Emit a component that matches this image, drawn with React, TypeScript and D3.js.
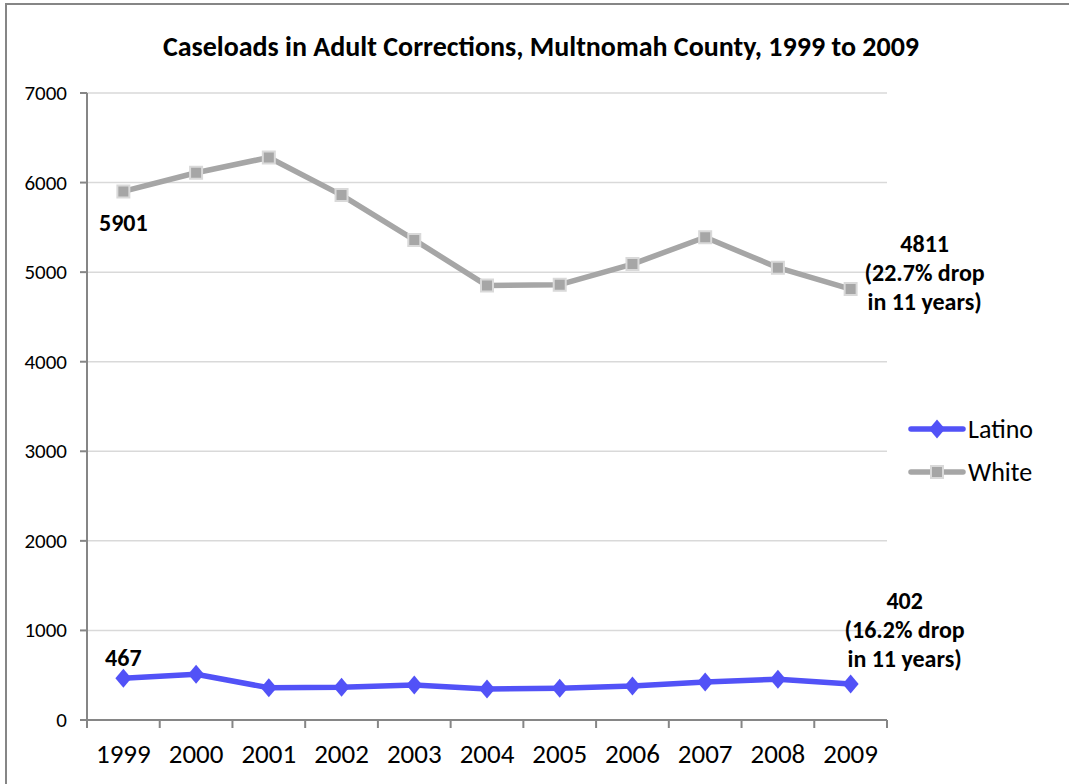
import React, { useRef, useEffect } from 'react';
import { select, scaleBand, scaleLinear, line, symbol, symbolSquare } from 'd3';

const years = ['1999', '2000', '2001', '2002', '2003', '2004', '2005', '2006', '2007', '2008', '2009'];
const latino = [467, 510, 360, 365, 390, 345, 355, 380, 425, 455, 402];
const white = [5901, 6110, 6280, 5860, 5360, 4850, 4860, 5090, 5390, 5050, 4811];
const yTicks = [0, 1000, 2000, 3000, 4000, 5000, 6000, 7000];
const whiteNote = ['4811', '(22.7% drop', 'in 11 years)'];
const latinoNote = ['402', '(16.2% drop', 'in 11 years)'];

const font = "Carlito, Calibri, Lato, sans-serif";

// diamond a bit wider than d3's default
const diamond = {
    draw(ctx: any, _size: number) {
        ctx.moveTo(0, -9.5);
        ctx.lineTo(8, 0);
        ctx.lineTo(0, 9.5);
        ctx.lineTo(-8, 0);
        ctx.closePath();
    }
};

export default function App() {
    const chartRef = useRef<SVGSVGElement | null>(null);

    useEffect(() => {
        if (!chartRef.current) return;
        const svg = select(chartRef.current);
        svg.selectAll("*").remove();

        const width = 1069;
        const height = 784;
        const margin = { top: 93, right: 182, bottom: 64, left: 87 };
        const innerW = width - margin.left - margin.right;
        const innerH = height - margin.top - margin.bottom;

        // outer chart border
        svg.append("rect")
            .attr("x", 6).attr("y", 4)
            .attr("width", 1100).attr("height", 900)
            .attr("fill", "white")
            .attr("stroke", "#868686")
            .attr("stroke-width", 2);

        svg.append("text")
            .attr("x", 541).attr("y", 56)
            .attr("text-anchor", "middle")
            .style("font-family", font)
            .style("font-size", "28px")
            .style("font-weight", "bold")
            .text("Caseloads in Adult Corrections, Multnomah County, 1999 to 2009");

        const g = svg.append("g").attr("transform", `translate(${margin.left},${margin.top})`);

        const x = scaleBand<string>().domain(years).range([0, innerW]);
        const y = scaleLinear().domain([0, 7000]).range([innerH, 0]);
        const cx = (d: string) => (x(d) as number) + x.bandwidth() / 2;

        // gridlines
        g.selectAll(".grid").data(yTicks.filter(t => t > 0)).enter().append("line")
            .attr("x1", 0).attr("x2", innerW)
            .attr("y1", d => y(d)).attr("y2", d => y(d))
            .attr("stroke", "#d9d9d9").attr("stroke-width", 1.5);

        // y axis
        g.append("line").attr("x1", 0).attr("x2", 0).attr("y1", 0).attr("y2", innerH)
            .attr("stroke", "#868686").attr("stroke-width", 2);
        g.selectAll(".ytick").data(yTicks).enter().append("line")
            .attr("x1", -7).attr("x2", 0)
            .attr("y1", d => y(d)).attr("y2", d => y(d))
            .attr("stroke", "#868686").attr("stroke-width", 2);
        g.selectAll(".ylab").data(yTicks).enter().append("text")
            .attr("x", -20).attr("y", d => y(d) + 7)
            .attr("text-anchor", "end")
            .style("font-family", font).style("font-size", "21px")
            .text(d => d);

        // x axis
        g.append("line").attr("x1", 0).attr("x2", innerW).attr("y1", innerH).attr("y2", innerH)
            .attr("stroke", "#868686").attr("stroke-width", 2);
        const bounds = years.map(d => x(d) as number).concat([innerW]);
        g.selectAll(".xtick").data(bounds).enter().append("line")
            .attr("x1", d => d).attr("x2", d => d)
            .attr("y1", innerH).attr("y2", innerH + 8)
            .attr("stroke", "#868686").attr("stroke-width", 2);
        g.selectAll(".xlab").data(years).enter().append("text")
            .attr("x", d => cx(d)).attr("y", innerH + 43)
            .attr("text-anchor", "middle")
            .style("font-family", font).style("font-size", "27px")
            .text(d => d);

        const path = line<number>().x((_, i) => cx(years[i])).y(d => y(d));

        // White series
        g.append("path").datum(white)
            .attr("fill", "none").attr("stroke", "#a6a6a6").attr("stroke-width", 5.5)
            .attr("stroke-linejoin", "round")
            .attr("d", path);
        g.selectAll(".wm").data(white).enter().append("path")
            .attr("transform", (d, i) => `translate(${cx(years[i])},${y(d)})`)
            .attr("d", symbol(symbolSquare, 144)())
            .attr("fill", "#a6a6a6").attr("stroke", "#d9d9d9").attr("stroke-width", 2);

        // Latino series
        const latColor = "#5252f7";
        g.append("path").datum(latino)
            .attr("fill", "none").attr("stroke", latColor).attr("stroke-width", 5.5)
            .attr("stroke-linejoin", "round")
            .attr("d", path);
        g.selectAll(".lm").data(latino).enter().append("path")
            .attr("transform", (d, i) => `translate(${cx(years[i])},${y(d)})`)
            .attr("d", symbol(diamond as any, 1)())
            .attr("fill", latColor);

        // annotations
        const ann = (lines: string[], ax: number, ay: number) => {
            const t = g.append("text")
                .attr("text-anchor", "middle")
                .style("font-family", font).style("font-size", "24px").style("font-weight", "bold");
            lines.forEach((s, i) => {
                t.append("tspan").attr("x", ax).attr("y", ay + i * 29).text(s);
            });
        };
        ann([String(white[0])], cx(years[0]), y(white[0]) + 40);
        ann([String(latino[0])], cx(years[0]), y(latino[0]) - 12);
        ann(whiteNote, cx(years[10]) + 74, y(white[10]) - 37);
        ann(latinoNote, cx(years[10]) + 54, y(latino[10]) - 75);

        // legend
        const lg = svg.append("g");
        const items = [
            { name: "Latino", color: latColor, sym: diamond, size: 1, stroke: "none" },
            { name: "White", color: "#a6a6a6", sym: symbolSquare, size: 144, stroke: "#d9d9d9" },
        ];
        items.forEach((it, i) => {
            const ly = 429 + i * 43;
            lg.append("line").attr("x1", 911).attr("x2", 963).attr("y1", ly).attr("y2", ly)
                .attr("stroke", it.color).attr("stroke-width", 5.5).attr("stroke-linecap", "round");
            lg.append("path").attr("transform", `translate(937,${ly})`)
                .attr("d", symbol(it.sym as any, it.size)())
                .attr("fill", it.color).attr("stroke", it.stroke).attr("stroke-width", 2);
            lg.append("text").attr("x", 968).attr("y", ly + 9)
                .style("font-family", font).style("font-size", "26px")
                .text(it.name);
        });
    }, []);

    return (
        <svg ref={chartRef} width={1069} height={784}
            style={{ position: 'absolute', left: 0, top: 0, background: 'white' }}></svg>
    );
}
